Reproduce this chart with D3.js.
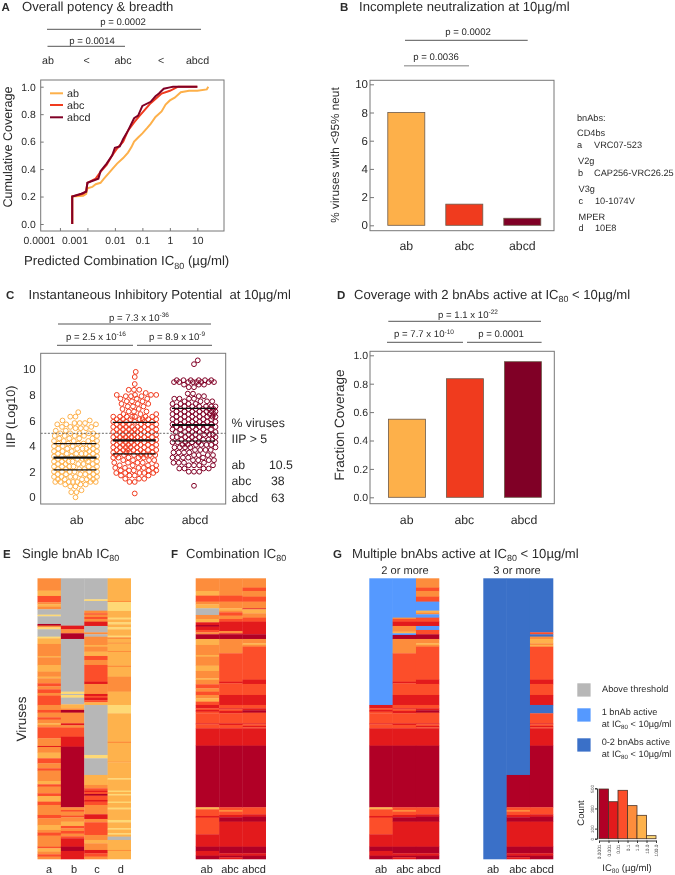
<!DOCTYPE html>
<html><head><meta charset="utf-8">
<script src="https://cdnjs.cloudflare.com/ajax/libs/d3/7.8.5/d3.min.js"></script>
<style>html,body{margin:0;padding:0;background:#fff}svg{display:block;filter:blur(0.3px)}text{font-family:"Liberation Sans",Arial,sans-serif;fill:#2b2b2b;text-rendering:geometricPrecision}</style>
</head><body><svg id="c" width="675" height="875"></svg>
<script>
// ---------- data ----------
const groups = ["ab","abc","abcd"];
const groupColors = ["#fdb04a","#f03b1e","#800026"];

// Panel A: cumulative coverage [IC80, fraction]
const cdfAb = [[0.00028,0],[0.00028,0.2],[0.0007,0.205],[0.0009,0.22],[0.001,0.26],[0.0015,0.27],[0.002,0.29],[0.003,0.3],[0.004,0.33],[0.006,0.37],[0.008,0.4],[0.012,0.44],[0.02,0.48],[0.03,0.52],[0.04,0.56],[0.05,0.6],[0.07,0.63],[0.1,0.66],[0.15,0.7],[0.2,0.73],[0.3,0.78],[0.5,0.82],[0.7,0.87],[1,0.9],[1.5,0.92],[2.5,0.96],[5,0.97],[10,0.97],[22,0.98],[25,1]];
const cdfAbc = [[0.00028,0],[0.00028,0.2],[0.0007,0.22],[0.0009,0.24],[0.001,0.3],[0.002,0.33],[0.003,0.38],[0.005,0.43],[0.008,0.5],[0.012,0.55],[0.02,0.6],[0.03,0.68],[0.05,0.74],[0.08,0.79],[0.12,0.83],[0.2,0.88],[0.3,0.91],[0.5,0.95],[1,0.97],[2,1],[10,1]];
const cdfAbcd = [[0.00028,0],[0.00028,0.2],[0.0006,0.22],[0.0009,0.235],[0.001,0.3],[0.0025,0.33],[0.003,0.385],[0.005,0.44],[0.008,0.5],[0.01,0.555],[0.015,0.565],[0.02,0.62],[0.03,0.68],[0.05,0.77],[0.07,0.79],[0.1,0.86],[0.2,0.89],[0.3,0.93],[0.4,0.95],[0.6,0.985],[1,0.995],[1.3,1],[10,1]];
const cdfTicks = [0.0001,0.001,0.01,0.1,1,10];
const cdfTickLabels = ["0.0001","0.001","0.01","0.1","1","10"];

// Panels B and D
const incomplete = [8,1.5,0.5];
const coverage2 = [0.55,0.835,0.955];

// Panel C: [IIP, number of viruses]
const iipAb = [[0,1],[0.4,2],[0.55,1],[0.85,2],[1,3],[1.2,7],[1.4,5],[1.6,6],[1.8,5],[2,6],[2.2,5],[2.4,6],[2.6,5],[2.8,6],[3,6],[3.2,5],[3.4,6],[3.6,5],[3.8,6],[4,5],[4.2,5],[4.4,5],[4.6,4],[4.8,5],[5,5],[5.2,2],[5.4,3],[5.5,3],[5.7,3],[5.8,3],[6,2],[6.3,2],[6.65,1]];
const iipAbc = [[0.3,1],[1.2,2],[1.45,3],[1.7,4],[1.9,5],[2.1,5],[2.3,5],[2.5,4],[2.7,4],[2.9,4],[3.1,5],[3.3,7],[3.5,7],[3.7,7],[3.9,7],[4.1,7],[4.3,7],[4.5,7],[4.7,7],[4.9,7],[5.1,7],[5.3,7],[5.5,7],[5.7,6],[5.9,6],[6.1,7],[6.3,7],[6.5,3],[6.7,3],[6.9,2],[7.1,3],[7.3,3],[7.5,3],[7.7,3],[7.9,3],[8,4],[8.15,1],[8.4,3],[8.85,1],[9.4,1],[9.8,1]];
const iipAbcd = [[0.9,1],[2,3],[2.25,4],[2.5,4],[2.7,4],[2.9,4],[3.1,5],[3.3,4],[3.5,4],[3.7,4],[3.9,5],[4.1,6],[4.3,6],[4.5,6],[4.7,6],[4.9,6],[5.1,6],[5.3,6],[5.5,6],[5.7,6],[5.9,6],[6.1,6],[6.3,7],[6.5,7],[6.7,7],[6.9,7],[7.1,7],[7.3,4],[7.5,4],[7.7,4],[7.9,2],[8.1,2],[8.6,2],[8.8,3],[9,8],[9.15,6],[10.4,1],[10.7,1]];
const iipQuartiles = [[2.15,3.1,4.2],[3.4,4.45,5.85],[4.4,5.65,6.95]];
const iipAbove5 = [["ab","10.5"],["abc","38"],["abcd","63"]];

// Heatmaps: runs of [colour class, last row]; rows are numbered 100..943
const G="G",L="L",D="D";
const heatColors = {0:"#b10026",1:"#e31a1c",2:"#fc4e2a",3:"#fd8d3c",4:"#feb24c",5:"#fed976",G:"#b7b7b7",L:"#5599ff",D:"#3a70c8"};
const colA = [[3,137],[4,153],[2,172],[3,178],[4,185],[3,193],[G,209],[5,214],[G,237],[0,242],[3,247],[5,253],[G,275],[5,280],[4,297],[3,333],[4,337],[3,360],[4,380],[3,395],[4,400],[3,415],[2,424],[3,433],[2,444],[3,452],[2,480],[3,495],[2,503],[3,517],[2,524],[3,535],[4,540],[3,547],[2,580],[3,603],[1,606],[3,623],[4,640],[2,655],[3,670],[2,677],[3,708],[4,718],[2,725],[3,745],[2,753],[4,770],[2,780],[3,810],[2,820],[3,840],[4,855],[3,863],[2,872],[3,905],[2,910],[4,920],[3,928],[2,935],[3,943]];
const colB = [[G,242],[1,253],[3,265],[0,282],[G,440],[5,447],[G,450],[5,458],[G,478],[4,490],[3,495],[0,503],[3,535],[1,541],[3,548],[2,575],[1,605],[0,787],[3,795],[2,800],[3,812],[2,817],[3,830],[4,843],[2,850],[3,858],[2,866],[3,874],[2,880],[1,905],[0,918],[1,943]];
const colC = [[G,163],[5,168],[G,197],[3,205],[2,209],[3,216],[2,222],[3,230],[1,243],[G,262],[3,268],[G,275],[3,300],[4,305],[3,320],[4,333],[2,345],[3,360],[2,410],[1,417],[3,447],[1,453],[2,458],[1,466],[2,472],[4,480],[G,630],[5,640],[G,690],[4,720],[3,730],[2,737],[1,741],[2,747],[0,752],[2,765],[1,770],[2,780],[3,808],[1,822],[3,832],[2,870],[3,885],[4,895],[3,915],[1,925],[2,935],[3,943]];
const colD = [[4,168],[3,171],[5,198],[4,218],[5,223],[4,232],[5,238],[4,247],[5,253],[4,272],[5,277],[3,282],[4,293],[3,296],[4,318],[3,321],[4,362],[3,366],[4,395],[3,440],[4,480],[5,505],[4,590],[3,594],[4,650],[3,652],[4,700],[5,704],[4,737],[5,741],[4,747],[5,751],[4,770],[5,774],[4,788],[5,793],[4,825],[5,832],[4,850],[5,854],[4,865],[5,869],[4,875],[G,885],[4,915],[3,918],[4,943]];

const lowerAb = [[1,490],[2,495],[1,500],[2,505],[2,535],[1,538],[2,550],[1,602],[0,787],[4,793],[2,813],[1,818],[2,868],[1,905],[0,918],[1,932],[0,943]];
const bottomAbc = [[2,795],[3,800],[2,810],[1,817],[0,830],[1,905],[0,925],[1,932],[0,937],[1,943]];
const bottomAbcd = [[2,808],[1,815],[0,830],[1,905],[0,925],[1,932],[0,943]];
const middleAbc = [[0,282],[3,325],[2,410],[1,415],[2,450],[1,480],[2,490],[1,493],[2,498],[1,505],[2,535],[1,540],[2,550],[1,602],[0,787]];
const middleAbcd = [[0,282],[3,295],[4,300],[3,305],[2,404],[1,417],[2,450],[1,480],[2,490],[1,496],[0,503],[2,535],[1,538],[2,543],[1,547],[2,550],[1,602],[0,787]];

const combAb = [[3,138],[4,152],[2,170],[3,178],[4,190],[G,210],[3,222],[4,232],[1,240],[0,245],[1,255],[2,262],[3,268],[0,282],[4,300],[3,330],[4,335],[3,362],[4,378],[3,400],[4,405],[3,418],[2,430],[3,440],[2,450],[3,460],[4,470],[2,480],...lowerAb];
const combAbc = [[3,152],[2,170],[3,190],[4,197],[3,202],[2,212],[3,222],[2,230],[1,243],[1,258],[3,265],[1,268],...middleAbc,...bottomAbc];
const combAbcd = [[3,128],[2,138],[3,155],[2,170],[3,190],[1,193],[4,205],[3,218],[2,230],[1,268],...middleAbcd,...bottomAbcd];

const multi2Ab = [[L,480],...lowerAb];
const multi2Abc = [[L,218],[3,222],[2,230],[1,243],[3,260],[4,265],[L,270],...middleAbc,...bottomAbc];
const multi2Abcd = [[3,128],[2,138],[3,155],[2,170],[L,197],[4,203],[3,208],[L,218],[2,230],[1,243],[L,255],[2,268],...middleAbcd,...bottomAbcd];
const multi3Ab = [[D,943]];
const multi3Abc = [[D,690],[0,787],...bottomAbc];
const multi3Abcd = [[D,262],[2,268],[D,275],[3,282],[4,295],[3,300],[4,305],[2,404],[1,417],[2,450],[1,480],[D,505],[2,535],[1,538],[2,543],[1,547],[2,550],[1,602],[0,787],...bottomAbcd];

// Histogram
const histCounts = [493,367,480,328,232,30];
const histEdgeLabels = ["0.0001","0.001","0.01","0.1","1.0","10.0","100.0"];
const histYTicks = [0,100,300,500];

// ---------- helpers ----------
const svg = d3.select("#c");
function txt(x,y,parts,o={}){
  const fs=o.size||10;
  const t = svg.append("text").attr("x",x).attr("y",y)
    .attr("font-size",fs).attr("text-anchor",o.anchor||"start");
  if(o.bold) t.attr("font-weight","bold");
  if(o.rotate!=null) t.attr("transform",`rotate(${o.rotate} ${x} ${y})`);
  let back=0;
  (Array.isArray(parts)?parts:[parts]).forEach(p=>{
    if(typeof p==="string"){ const s=t.append("tspan").text(p); if(back) s.attr("dy",back); back=0; }
    else { const d=fs*(p.sub?0.28:-0.38); t.append("tspan").attr("dy",d).attr("font-size",fs*0.68).text(p.sub||p.sup); back=-d; }
  });
  return t;
}
function hline(x1,x2,y,w=1,c="#555"){svg.append("line").attr("x1",x1).attr("x2",x2).attr("y1",y).attr("y2",y).attr("stroke",c).attr("stroke-width",w);}
function frame(x0,y0,x1,y1){svg.append("rect").attr("x",x0).attr("y",y0).attr("width",x1-x0).attr("height",y1-y0).attr("fill","none").attr("stroke","#777").attr("stroke-width",1);}
function styleAxis(g,size,tickColor="#777"){
  g.select(".domain").remove();
  g.selectAll("line").attr("stroke",tickColor);
  g.selectAll("text").attr("font-size",size).style("fill","#2b2b2b");
}
const TITLE=13.1, PV=9.6, CAT=12.3, HEADER=11.5;

// ---------- panel A ----------
txt(1.5,10.5,"A",{size:HEADER,bold:true});
txt(22,10.5,"Overall potency & breadth",{size:TITLE});
txt(123,25,"p = 0.0002",{size:PV,anchor:"middle"}); hline(47,201,29.3);
txt(92,44,"p = 0.0014",{size:PV,anchor:"middle"}); hline(47.5,125,46.3);
[["ab",48],["<",86.5],["abc",123],["<",161],["abcd",197.5]].forEach(d=>txt(d[1],64,d[0],{size:10.7,anchor:"middle"}));
const ax = d3.scaleLog().domain([Math.pow(10,-4.70),Math.pow(10,1.97)]).range([40.7,224]);
const ay = d3.scaleLinear().domain([0,1]).range([224,86.7]);
const aLine = d3.line().x(d=>ax(d[0])).y(d=>ay(d[1]));
[cdfAb,cdfAbc,cdfAbcd].forEach((c,i)=>svg.append("path").attr("d",aLine(c)).attr("fill","none").attr("stroke",groupColors[i]).attr("stroke-width",2));
frame(40.7,80,224,231);
const axA = svg.append("g").attr("transform","translate(0,231)").call(d3.axisBottom(ax).tickValues(cdfTicks).tickSize(-3).tickPadding(6).tickFormat((d,i)=>cdfTickLabels[i]));
styleAxis(axA,10.4);
const aShift=[-21,-13,0,0,0,0];
axA.selectAll("text").attr("dx",(d,i)=>aShift[i]);
const ayAxis = svg.append("g").attr("transform","translate(40.7,0)").call(d3.axisLeft(ay).tickValues([0,0.2,0.4,0.6,0.8,1]).tickFormat(d3.format(".1f")).tickSize(-3).tickPadding(5));
styleAxis(ayAxis,10.4);
txt(11.8,147,"Cumulative Coverage",{size:12.6,anchor:"middle",rotate:-90});
txt(24,265,["Predicted Combination IC",{sub:"80"}," (\u00b5g/ml)"],{size:13.2});
groups.forEach((g,i)=>{
  const y=[93.3,105,117.3][i];
  svg.append("line").attr("x1",50).attr("x2",63).attr("y1",y).attr("y2",y).attr("stroke",groupColors[i]).attr("stroke-width",2);
  txt(67,y+3.5,g,{size:10.8});
});

// ---------- panel B ----------
txt(340,10.5,"B",{size:HEADER,bold:true});
txt(359,10.5,"Incomplete neutralization at 10\u00b5g/ml",{size:TITLE});
txt(468,35,"p = 0.0002",{size:PV,anchor:"middle"}); hline(405,527.7,40.3);
txt(436,60,"p = 0.0036",{size:PV,anchor:"middle"}); hline(404,469,65.7,1.4,"#aaa");
const bx = d3.scaleBand().domain(groups).range([377.3,551.3]).paddingInner(0.362).paddingOuter(0.181);
const by = d3.scaleLinear().domain([0,10]).range([225.3,84.3]);
svg.append("g").selectAll("rect").data(incomplete).join("rect")
  .attr("x",(d,i)=>bx(groups[i])).attr("width",bx.bandwidth()).attr("y",d=>by(d)).attr("height",d=>by(0)-by(d))
  .attr("fill",(d,i)=>groupColors[i]).attr("stroke","#6d5a4a").attr("stroke-width",0.8);
frame(370,80.3,554,230.7);
const bAxis = svg.append("g").attr("transform","translate(370,0)").call(d3.axisLeft(by).tickValues([0,2,4,6,8,10]).tickFormat(d3.format("d")).tickSize(-4).tickPadding(2));
styleAxis(bAxis,11.5);
groups.forEach(g=>txt(bx(g)+bx.bandwidth()/2,250,g,{size:CAT,anchor:"middle"}));
txt(339,155,"% viruses with <95% neut",{size:11.8,anchor:"middle",rotate:-90});
[["bnAbs:",577,121],["CD4bs",577,136],["a",577,148],["VRC07-523",594,148],["V2g",578,164],["b",578,176],["CAP256-VRC26.25",594,176],["V3g",578.5,192],["c",578.5,203.5],["10-1074V",595,203.5],["MPER",578.5,220],["d",578.5,231],["10E8",595,231]]
  .forEach(d=>txt(d[1],d[2],d[0],{size:9.2}));

// ---------- panel C ----------
txt(6,298.5,"C",{size:HEADER,bold:true});
txt(28.5,298.5,"Instantaneous Inhibitory Potential\u00a0 at 10\u00b5g/ml",{size:TITLE});
txt(139,320.7,["p = 7.3 x 10",{sup:"-36"}],{size:PV,anchor:"middle"}); hline(58,211,324);
txt(96,340,["p = 2.5 x 10",{sup:"-16"}],{size:PV,anchor:"middle"}); hline(57,133,345.3);
txt(177,340,["p = 8.9 x 10",{sup:"-9"}],{size:PV,anchor:"middle"}); hline(137,212,345.3);
const cy = d3.scaleLinear().domain([0,10]).range([497.3,369.3]);
const cx = d3.scalePoint().domain(groups).range([75.5,194]);
function swarm(rows,limit,gap){
  const vals=[]; rows.forEach(r=>d3.range(r[1]).forEach(()=>vals.push(r[0])));
  const placed=[]; const step=0.25;
  vals.forEach((v,i)=>{
    const py=cy(v), sign=i%2?1:-1; let chosen=null, best=-1, bestX=0;
    for(let k=0;k*step<=limit;k++){
      for(const s of (k?[sign,-sign]:[1])){
        const x=s*k*step; let m=1e9;
        for(const p of placed){const dd=Math.hypot(p.x-x,p.y-py); if(dd<m)m=dd; }
        if(m>=gap){chosen=x;break;}
        if(m>best){best=m;bestX=x;}
      }
      if(chosen!==null)break;
    }
    placed.push({x:chosen!==null?chosen:bestX,y:py});
  });
  return placed;
}
[iipAb,iipAbc,iipAbcd].forEach((rows,i)=>{
  svg.append("g").selectAll("circle").data(swarm(rows,21.5,5.2)).join("circle")
    .attr("cx",d=>cx(groups[i])+d.x).attr("cy",d=>d.y).attr("r",2.4)
    .attr("fill","none").attr("stroke",groupColors[i]).attr("stroke-width",1);
  iipQuartiles[i].forEach((q,j)=>hline(cx(groups[i])-22,cx(groups[i])+21,cy(q),j===1?2.2:1.2,"#111"));
});
svg.append("line").attr("x1",40.7).attr("x2",226).attr("y1",cy(5)).attr("y2",cy(5)).attr("stroke","#444").attr("stroke-width",0.8).attr("stroke-dasharray","2 1.6");
frame(40.7,353.3,225.7,504);
const cAxis = svg.append("g").attr("transform","translate(40.7,0)").call(d3.axisLeft(cy).tickValues([0,2,4,6,8,10]).tickFormat(d3.format("d")).tickSize(0).tickPadding(5));
styleAxis(cAxis,11.5);
groups.forEach((g,i)=>txt([76.7,134.3,195][i],524.3,g,{size:CAT,anchor:"middle"}));
txt(15.5,416.7,"IIP (Log10)",{size:12.6,anchor:"middle",rotate:-90});
txt(231.5,426.7,"% viruses",{size:12.3}); txt(231.5,443,"IIP > 5",{size:12.3});
iipAbove5.forEach((d,i)=>{const y=[469,485.3,501.7][i];txt(231.5,y,d[0],{size:12.3});txt([269,271,271][i],y,d[1],{size:12.3});});

// ---------- panel D ----------
txt(337,298.5,"D",{size:HEADER,bold:true});
txt(354,298.5,["Coverage with 2 bnAbs active at IC",{sub:"80"}," < 10\u00b5g/ml"],{size:TITLE});
txt(468,317.7,["p = 1.1 x 10",{sup:"-22"}],{size:PV,anchor:"middle"}); hline(388.3,541,321.3);
txt(424,337.3,["p = 7.7 x 10",{sup:"-10"}],{size:PV,anchor:"middle"}); hline(387,463,342.3);
txt(501,337.3,"p = 0.0001",{size:PV,anchor:"middle"}); hline(467,541.6,342.3);
const dy = d3.scaleLinear().domain([0,1]).range([497.3,355.3]);
svg.append("g").selectAll("rect").data(coverage2).join("rect")
  .attr("x",(d,i)=>bx(groups[i])+0.6).attr("width",bx.bandwidth()).attr("y",d=>dy(d)).attr("height",d=>dy(0)-dy(d))
  .attr("fill",(d,i)=>groupColors[i]).attr("stroke","#6d5a4a").attr("stroke-width",0.8);
frame(370,351.3,554.3,503.7);
const dAxis = svg.append("g").attr("transform","translate(370,0)").call(d3.axisLeft(dy).tickValues([0,0.2,0.4,0.6,0.8,1]).tickFormat(d3.format(".1f")).tickSize(-4).tickPadding(2));
styleAxis(dAxis,10.5);
groups.forEach((g,i)=>txt([406.7,464.3,524][i],524.3,g,{size:CAT,anchor:"middle"}));
txt(344,425,"Fraction Coverage",{size:13.5,anchor:"middle",rotate:-90});

// ---------- heatmaps ----------
const hy = d3.scaleLinear().domain([100,943]).range([578.3,859.3]);
function heat(cols,x0,x1,labels,labelX){
  const hx = d3.scaleBand().domain(d3.range(cols.length)).range([x0,x1]);
  cols.forEach((runs,i)=>{
    let start=100;
    const rects = runs.map(r=>{const o={c:r[0],a:start,b:r[1]};start=r[1];return o;}).filter(o=>o.b>o.a);
    svg.append("g").selectAll("rect").data(rects).join("rect")
      .attr("x",hx(i)).attr("width",hx.bandwidth()+ (i<cols.length-1?0.3:0))
      .attr("y",d=>hy(d.a)).attr("height",d=>hy(d.b)-hy(d.a)+(d.b<943?0.3:0))
      .attr("fill",d=>heatColors[d.c]);
  });
  labels.forEach((l,i)=>txt(labelX[i],872.5,l,{size:11,anchor:"middle"}));
}
txt(3,557.7,"E",{size:HEADER,bold:true});
txt(22,557.7,["Single bnAb IC",{sub:"80"}],{size:TITLE});
heat([colA,colB,colC,colD],37.5,131,["a","b","c","d"],[49,74,97,120.7]);
txt(26,719,"Viruses",{size:13.5,anchor:"middle",rotate:-90});
txt(171,557.7,"F",{size:HEADER,bold:true});
txt(186,557.7,["Combination IC",{sub:"80"}],{size:TITLE});
heat([combAb,combAbc,combAbcd],195.7,266,groups,[206.7,230,254]);
txt(333,557.7,"G",{size:HEADER,bold:true});
txt(352,557.7,["Multiple bnAbs active at IC",{sub:"80"}," < 10\u00b5g/ml"],{size:TITLE});
txt(405,574,"2 or more",{size:11.1,anchor:"middle"});
txt(517,574,"3 or more",{size:11.1,anchor:"middle"});
heat([multi2Ab,multi2Abc,multi2Abcd],369.3,439.3,groups,[381,405,429]);
heat([multi3Ab,multi3Abc,multi3Abcd],483.3,553.3,groups,[493,518,542]);

// legend
[[G,683.3],[L,708.3],[D,738.3]].forEach(d=>svg.append("rect").attr("x",577.3).attr("y",d[1]).attr("width",13.3).attr("height",13.3).attr("fill",heatColors[d[0]]));
txt(602,691.5,"Above threshold",{size:9.2});
txt(601.7,715,"1 bnAb active",{size:9.2});
txt(601.7,726.7,["at IC",{sub:"80"}," < 10\u00b5g/ml"],{size:9.2});
txt(601.7,745,"0-2 bnAbs active",{size:9.2});
txt(601.7,756.7,["at IC",{sub:"80"}," < 10\u00b5g/ml"],{size:9.2});

// histogram
const hhx = d3.scaleLinear().domain([0,6]).range([599,656]);
const hhy = d3.scaleLinear().domain([0,500]).range([838.7,788.3]);
svg.append("g").selectAll("rect").data(histCounts).join("rect")
  .attr("x",(d,i)=>hhx(i)).attr("width",hhx(1)-hhx(0)).attr("y",d=>hhy(d)).attr("height",d=>hhy(0)-hhy(d))
  .attr("fill",(d,i)=>heatColors[i]).attr("stroke","#4a3328").attr("stroke-width",0.8);
const hhYAxis = svg.append("g").attr("transform","translate(597,0)").call(d3.axisLeft(hhy).tickValues(histYTicks).tickSize(2).tickPadding(1));
hhYAxis.select(".domain").attr("stroke","#333");
hhYAxis.selectAll("line").attr("stroke","#333");
hhYAxis.selectAll("text").attr("font-size",4.6).style("fill","#444").attr("text-anchor","middle").attr("dy",0).attr("transform","rotate(-90 -3.5 0)").attr("x",-3.5);
const hhXAxis = svg.append("g").attr("transform","translate(0,840.5)").call(d3.axisBottom(hhx).tickValues(d3.range(7)).tickSize(2.5).tickPadding(1).tickFormat((d,i)=>histEdgeLabels[i]));
hhXAxis.select(".domain").attr("stroke","#333");
hhXAxis.selectAll("line").attr("stroke","#333");
hhXAxis.selectAll("text").attr("font-size",4.8).style("fill","#444").attr("text-anchor","end").attr("dy",0).attr("x",0).attr("y",0).attr("transform","translate(1.6,4) rotate(-90)");
txt(584,813,"Count",{size:9.5,anchor:"middle",rotate:-90});
txt(627,870.5,["IC",{sub:"80"}," (\u00b5g/ml)"],{size:9.6,anchor:"middle"});
</script></body></html>
